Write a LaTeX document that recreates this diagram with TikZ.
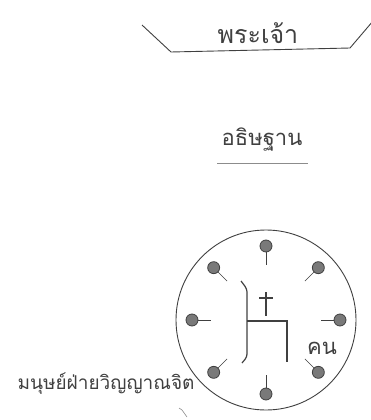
\documentclass[tikz,border=0pt]{standalone}
\usepackage{fontspec}
\newfontfamily\thaifont[Script=Thai]{Loma}
\usetikzlibrary{calc,positioning}
\definecolor{ink}{gray}{0.25}
\tikzset{
  thai/.style={font=\thaifont\fontsize{#1}{#1}\selectfont,text=ink,inner sep=0pt},
  rim/.style={draw=ink,line width=0.9pt},
  pin/.style={circle,draw=ink,fill=ink!70,line width=0.8pt,minimum size=12pt,inner sep=0pt},
  stalk/.style={draw=ink,line width=0.6pt},
  fig/.style={draw=ink,line width=1.2pt,rounded corners=3pt},
}
\begin{document}
\begin{tikzpicture}[x=1pt,y=-1pt]
\useasboundingbox (0,0) rectangle (371,420);

% top: God
\coordinate (tl) at (142,25);
\coordinate (bl) at (171,52);
\coordinate (br) at (350,48);
\coordinate (tr) at (373,21);
\draw[rim] (tl) -- (bl) -- (br) -- (tr);
\node[thai=25] (god) at (258,33) {พระเจ้า};

% prayer
\node[thai=22] (pray) at (262,140) {อธิษฐาน};
\coordinate (ul) at (217,163);
\coordinate (ur) at (308,163);
\draw[draw=ink!60,line width=0.7pt] (ul) -- (ur);

% spirit man
\node[rim,circle,minimum size=180pt,inner sep=0pt] (soul) at (266,320) {};
\foreach \a in {0,45,...,315}{
  \coordinate (q\a) at ($(soul.center)+(\a:55)$);
  \coordinate (r\a) at ($(soul.center)+(\a:74)$);
  \draw[stalk] (r\a) -- (q\a);
  \node[pin] (p\a) at (r\a) {};
}

% figure with the cross
\coordinate (f1) at (241,281);
\coordinate (f2) at (247,289);
\coordinate (f3) at (247,357);
\coordinate (f4) at (242,363);
\draw[fig] (f1) -- (f2) -- (f3) -- (f4);
\coordinate (h1) at (247,321);
\coordinate (h2) at (287,321);
\coordinate (h3) at (287,362);
\draw[fig,rounded corners=0pt] (h1) -- (h2) -- (h3);
\coordinate (c1) at (266,292);
\coordinate (c2) at (266,316);
\coordinate (c3) at (259,298);
\coordinate (c4) at (273,298);
\draw[fig] (c1) -- (c2) (c3) -- (c4);
\node[thai=22] (man) at (322,348) {คน};

\node[thai=19] (label) at (106,384) {มนุษย์ฝ่ายวิญญาณจิต};
\coordinate (m1) at (179,408);
\coordinate (m2) at (187,417);
\draw[draw=ink!60,line width=0.6pt] (m1) -- ++(3,2) -- (m2);
\end{tikzpicture}
\end{document}
